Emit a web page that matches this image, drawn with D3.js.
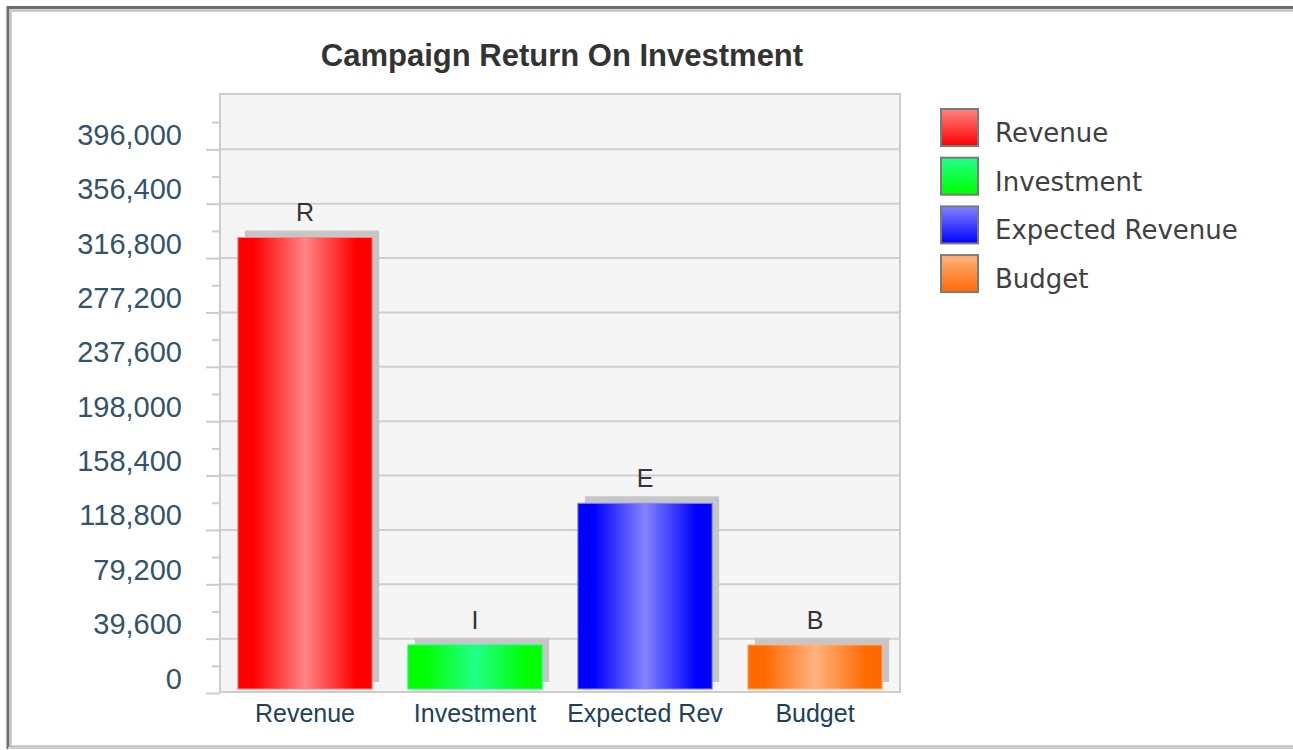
<!DOCTYPE html>
<html>
<head>
<meta charset="utf-8">
<script src="https://cdn.jsdelivr.net/npm/d3@7"></script>
<style>
  html, body { margin: 0; padding: 0; background: #ffffff; }
  svg { display: block; }
</style>
</head>
<body>
<svg id="chart" width="1293" height="750"></svg>
<script>
// ---- data ----
const chartTitle = "Campaign Return On Investment";
const categories = ["Revenue", "Investment", "Expected Rev", "Budget"];
const legendLabels = ["Revenue", "Investment", "Expected Revenue", "Budget"];
const barLetters = ["R", "I", "E", "B"];
const values = [331800, 35000, 138200, 35000];
const yTickValues = [0, 39600, 79200, 118800, 158400, 198000, 237600, 277200, 316800, 356400, 396000];
const yMax = 435600;
const baseColors = ["#ff0000", "#00ff00", "#0000ff", "#ff6a00"];
const lightColors = ["#ff8484", "#22ff88", "#8484ff", "#ffb37e"];

// ---- layout ----
const W = 1293, H = 750;
const plot = { left: 220, right: 900, top: 94, bottom: 692 };
const svg = d3.select("#chart");
const defs = svg.append("defs");

// outer frame
svg.append("rect").attr("x", 8).attr("y", 7.5).attr("width", W + 20).attr("height", 740)
  .attr("fill", "none").attr("stroke", "#6e6e6e").attr("stroke-width", 3);
svg.append("rect").attr("x", 10.5).attr("y", 10.5).attr("width", W + 20).attr("height", 736)
  .attr("fill", "none").attr("stroke", "#c4c4c4").attr("stroke-width", 2.5);
svg.append("line").attr("x1", 8).attr("x2", W).attr("y1", 748).attr("y2", 748)
  .attr("stroke", "#cfcfcf").attr("stroke-width", 2);

// scales
const x = d3.scaleBand().domain(categories).range([plot.left, plot.right])
  .paddingInner(0.21).paddingOuter(0.105);
const y = d3.scaleLinear().domain([0, yMax]).range([693, 95]);

// title
svg.append("text").attr("x", 562).attr("y", 66).attr("text-anchor", "middle")
  .attr("font-family", "Liberation Sans, Arial, sans-serif").attr("font-weight", "bold")
  .attr("font-size", 31).attr("fill", "#333333").text(chartTitle);

// plot background
svg.append("rect").attr("x", plot.left).attr("y", plot.top)
  .attr("width", plot.right - plot.left).attr("height", plot.bottom - plot.top)
  .attr("fill", "#f5f5f5");

// gridlines
svg.append("g").selectAll("line").data(yTickValues.filter(d => d > 0)).join("line")
  .attr("x1", plot.left).attr("x2", plot.right)
  .attr("y1", d => y(d)).attr("y2", d => y(d))
  .attr("stroke", "#cfcfcf").attr("stroke-width", 2);

// minor ticks
const minorVals = yTickValues.map(d => d + 19800).filter(d => d < yMax);
const minorAxis = d3.axisLeft(y).tickValues(minorVals).tickSize(8).tickFormat("");
const gMinor = svg.append("g").attr("transform", `translate(${plot.left},0)`).call(minorAxis);
gMinor.select(".domain").remove();
gMinor.selectAll("line").attr("stroke", "#cccccc").attr("stroke-width", 2);

// major axis
const yAxis = d3.axisLeft(y).tickValues(yTickValues).tickSize(14).tickPadding(24)
  .tickFormat(d3.format(","));
const gY = svg.append("g").attr("transform", `translate(${plot.left},0)`).call(yAxis);
gY.select(".domain").remove();
gY.selectAll("line").attr("stroke", "#cccccc").attr("stroke-width", 2);
gY.selectAll("text").attr("dy", "-5px")
  .attr("font-family", "Liberation Sans, Arial, sans-serif")
  .attr("font-size", 29).attr("fill", "#34536b");

// gradients
categories.forEach((c, i) => {
  const g = defs.append("linearGradient").attr("id", "bar" + i)
    .attr("x1", "0%").attr("x2", "100%").attr("y1", "0%").attr("y2", "0%");
  [[0, baseColors[i]], [0.12, baseColors[i]], [0.5, lightColors[i]], [0.88, baseColors[i]], [1, baseColors[i]]]
    .forEach(s => g.append("stop").attr("offset", s[0]).attr("stop-color", s[1]));
  const l = defs.append("linearGradient").attr("id", "leg" + i)
    .attr("x1", "0%").attr("x2", "0%").attr("y1", "0%").attr("y2", "100%");
  [[0, lightColors[i]], [1, baseColors[i]]]
    .forEach(s => l.append("stop").attr("offset", s[0]).attr("stop-color", s[1]));
});

// bars
const barBottom = y(0) - 4;
const data = categories.map((c, i) => ({ c, i, v: values[i] }));
const gBars = svg.append("g");
gBars.selectAll("rect.shadow").data(data).join("rect").attr("class", "shadow")
  .attr("x", d => x(d.c) + 7).attr("y", d => y(d.v) - 7)
  .attr("width", x.bandwidth()).attr("height", d => barBottom - y(d.v))
  .attr("fill", "#c6c6c6");
gBars.selectAll("rect.bar").data(data).join("rect").attr("class", "bar")
  .attr("x", d => x(d.c)).attr("y", d => y(d.v))
  .attr("width", x.bandwidth()).attr("height", d => barBottom - y(d.v))
  .attr("fill", d => `url(#bar${d.i})`)
  .attr("stroke", d => lightColors[d.i]).attr("stroke-width", 1);

// bar letters
gBars.selectAll("text").data(data).join("text")
  .attr("x", d => x(d.c) + x.bandwidth() / 2).attr("y", d => y(d.v) - 16)
  .attr("text-anchor", "middle")
  .attr("font-family", "Liberation Sans, Arial, sans-serif").attr("font-size", 25)
  .attr("fill", "#333333").text(d => barLetters[d.i]);

// plot border
svg.append("rect").attr("x", plot.left).attr("y", plot.top)
  .attr("width", plot.right - plot.left).attr("height", plot.bottom - plot.top)
  .attr("fill", "none").attr("stroke", "#cccccc").attr("stroke-width", 2);

// x labels
svg.append("g").selectAll("text").data(categories).join("text")
  .attr("x", d => x(d) + x.bandwidth() / 2).attr("y", 722)
  .attr("text-anchor", "middle")
  .attr("font-family", "Liberation Sans, Arial, sans-serif").attr("font-size", 25)
  .attr("fill", "#21405a").text(d => d);

// legend
const gLeg = svg.append("g");
legendLabels.forEach((lab, i) => {
  const ly = 109 + i * 48.7;
  gLeg.append("rect").attr("x", 941).attr("y", ly).attr("width", 37).attr("height", 37)
    .attr("fill", `url(#leg${i})`).attr("stroke", "#7a7a7a").attr("stroke-width", 2);
  gLeg.append("text").attr("x", 995).attr("y", ly + 33)
    .attr("font-family", "DejaVu Sans, Verdana, sans-serif").attr("font-size", 26)
    .attr("fill", "#404040").text(lab);
});
</script>
</body>
</html>
